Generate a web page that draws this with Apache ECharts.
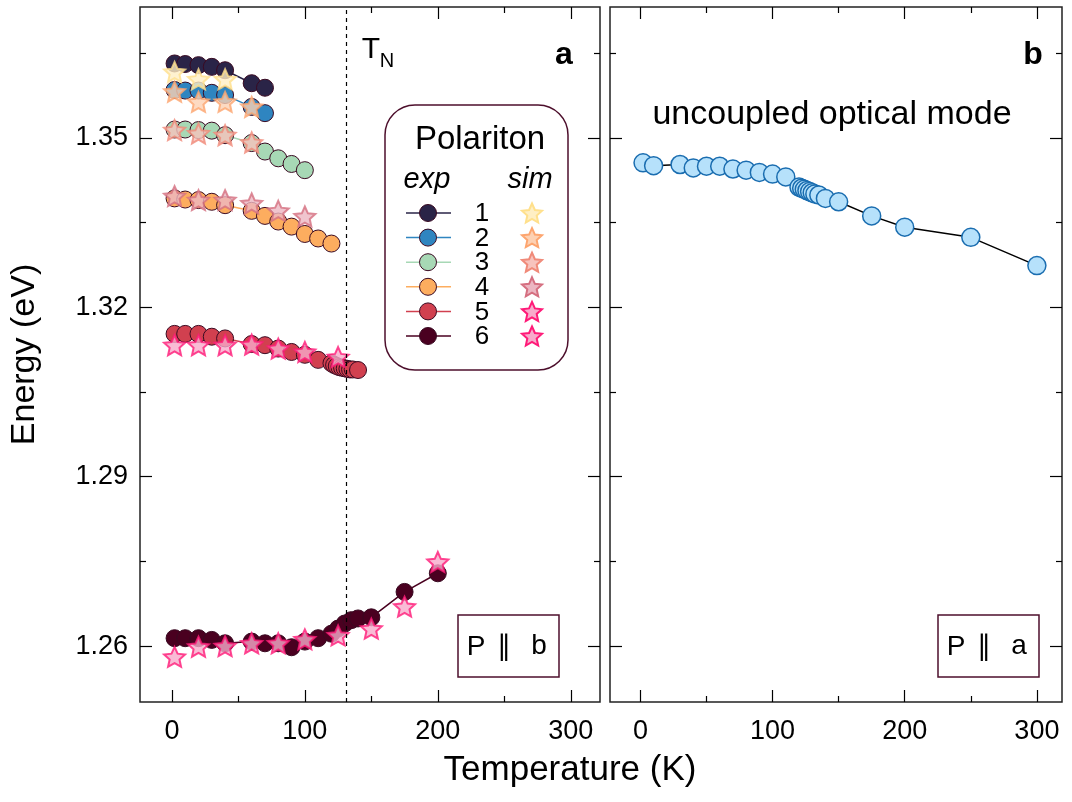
<!DOCTYPE html>
<html>
<head>
<meta charset="utf-8">
<script src="https://cdn.jsdelivr.net/npm/echarts@6/dist/echarts.min.js"></script>
<style>
  html, body { margin: 0; padding: 0; background: #fff; }
  #chart { width: 1072px; height: 802px; }
</style>
</head>
<body>
<div id="chart"></div>
<script>
// ---- Panel a: polariton branches, P || b (experiment) ----
const tExp1 = [2, 10, 20, 30, 40, 60, 70];
const eExp1 = [1.3632, 1.3631, 1.3629, 1.3626, 1.3620, 1.3597, 1.3589];
const tExp2 = [2, 10, 20, 30, 40, 60, 70];
const eExp2 = [1.3585, 1.3584, 1.3584, 1.3580, 1.3576, 1.3555, 1.3544];
const tExp3 = [2, 10, 20, 30, 40, 60, 70, 80, 90, 100];
const eExp3 = [1.3515, 1.3515, 1.3514, 1.3513, 1.3505, 1.3491, 1.3476, 1.3464, 1.3454, 1.3443];
const tExp4 = [2, 10, 20, 30, 40, 60, 70, 80, 90, 100, 110, 120];
const eExp4 = [1.3393, 1.3391, 1.3390, 1.3387, 1.3381, 1.3371, 1.3362, 1.3352, 1.3343, 1.3330, 1.3322, 1.3313];
const tExp5 = [2, 10, 20, 30, 40, 60, 70, 80, 90, 100, 110, 120, 122, 124, 126, 128, 130, 132, 134, 136, 140];
const eExp5 = [1.3153, 1.3153, 1.3153, 1.3148, 1.3145, 1.3135, 1.3133, 1.3127, 1.3121, 1.3116, 1.3107, 1.3101, 1.3098, 1.3096, 1.3094, 1.3093, 1.3092, 1.3091, 1.3090, 1.3090, 1.3089];
const tExp6 = [2, 10, 20, 30, 40, 60, 70, 80, 90, 100, 110, 120, 125, 130, 135, 140, 150, 175, 200];
const eExp6 = [1.2614, 1.2614, 1.2614, 1.2611, 1.2605, 1.2608, 1.2605, 1.2605, 1.2598, 1.2608, 1.2614, 1.2622, 1.2631, 1.2640, 1.2646, 1.2649, 1.2651, 1.2696, 1.2729];

// ---- Panel a: simulated branches ----
const tSim1 = [2, 20, 40];
const eSim1 = [1.3617, 1.3604, 1.3604];
const tSim2 = [2, 20, 40, 60];
const eSim2 = [1.3582, 1.3564, 1.3564, 1.3555];
const tSim3 = [2, 20, 40, 60];
const eSim3 = [1.3514, 1.3508, 1.3505, 1.3492];
const tSim4 = [2, 20, 40, 60, 80, 100];
const eSim4 = [1.3397, 1.3390, 1.3390, 1.3384, 1.3371, 1.3361];
const tSim5 = [2, 20, 40, 60, 80, 100, 125];
const eSim5 = [1.3133, 1.3133, 1.3133, 1.3134, 1.3127, 1.3121, 1.3112];
const tSim6 = [2, 20, 40, 60, 80, 100, 125, 150, 175, 200];
const eSim6 = [1.2581, 1.2599, 1.2600, 1.2605, 1.2605, 1.2612, 1.2619, 1.2631, 1.2670, 1.2749];

// Néel temperature
const tNeel = 131;

// ---- Panel b: uncoupled optical mode, P || a ----
const tMode = [2, 10, 30, 40, 50, 60, 70, 80, 90, 100, 110, 120, 122, 124, 126, 128, 130, 132, 135, 140, 150, 175, 200, 250, 300];
const eMode = [1.3456, 1.3451, 1.3453, 1.3447, 1.3450, 1.3450, 1.3445, 1.3443, 1.3439, 1.3436, 1.3431, 1.3413, 1.3411, 1.3409, 1.3407, 1.3405, 1.3403, 1.3401, 1.3399, 1.3393, 1.3387, 1.3362, 1.3342, 1.3324, 1.3274];

// ---- Axis ticks ----
const xMajor = [0, 100, 200, 300];
const xMinor = [50, 150, 250];
const yMajor = [1.26, 1.29, 1.32, 1.35];
const yMinor = [1.275, 1.305, 1.335, 1.365];
const legendLabels = ['1', '2', '3', '4', '5', '6'];

// ---- Styling ----
const FONT = 'Liberation Sans';
const expColors = ['#2a2447', '#2f85c0', '#a7d8b5', '#fdad5f', '#d1404f', '#4a0020'];
const simBorder = ['#ffe08c', '#fda56f', '#f08a79', '#d56f80', '#ff1a78', '#ff1a78'];
const simFill = ['#ffefc4', '#fdd1b3', '#f7c3bd', '#ecb6c2', '#f8aacb', '#f8aacb'];
const markerEdge = '#3a0a22';
const boxEdge = '#4d0f2c';

function starPath() {
  let d = '';
  for (let i = 0; i < 10; i++) {
    const r = i % 2 ? 0.47 : 1;
    const a = -Math.PI / 2 + i * Math.PI / 5;
    d += (i ? 'L' : 'M') + (r * Math.cos(a)).toFixed(4) + ' ' + (r * Math.sin(a)).toFixed(4);
  }
  return 'path://' + d + 'Z';
}
const STAR = starPath();

function starPoints(cx, cy, R) {
  const pts = [];
  for (let i = 0; i < 10; i++) {
    const r = i % 2 ? R * 0.47 : R;
    const a = -Math.PI / 2 + i * Math.PI / 5;
    pts.push([cx + r * Math.cos(a), cy + r * Math.sin(a)]);
  }
  return pts;
}

const zip = (xs, ys) => xs.map((x, i) => [x, ys[i]]);

const expT = [tExp1, tExp2, tExp3, tExp4, tExp5, tExp6];
const expE = [eExp1, eExp2, eExp3, eExp4, eExp5, eExp6];
const simT = [tSim1, tSim2, tSim3, tSim4, tSim5, tSim6];
const simE = [eSim1, eSim2, eSim3, eSim4, eSim5, eSim6];

// panel rectangles; grids 0/1 carry data + major ticks, grids 2/3 repeat them for minor ticks
const PANELS = [
  { left: 140, top: 7, width: 460, height: 695, xmin: -24, xmax: 322 },
  { left: 610, top: 7, width: 452, height: 695, xmin: -23, xmax: 319 }
];
const Y_RANGE = { min: 1.2501, max: 1.3732 };

const grids = [];
const xAxes = [];
const yAxes = [];
[true, false].forEach(major => {
  PANELS.forEach((p, pi) => {
    const g = grids.length;
    grids.push({
      left: p.left, top: p.top, width: p.width, height: p.height,
      show: major, borderColor: '#222', borderWidth: 1.5, backgroundColor: 'transparent'
    });
    ['bottom', 'top'].forEach(pos => {
      xAxes.push({
        type: 'value', gridIndex: g, position: pos,
        min: p.xmin, max: p.xmax,
        axisLine: { show: false, onZero: false },
        splitLine: { show: false },
        axisTick: {
          show: true, inside: true, length: major ? 12 : 6,
          customValues: major ? xMajor : xMinor,
          lineStyle: { color: '#000', width: 1.2 }
        },
        axisLabel: {
          show: major && pos === 'bottom',
          customValues: xMajor, margin: 16,
          fontFamily: FONT, fontSize: 27, color: '#000'
        }
      });
    });
    ['left', 'right'].forEach(pos => {
      const labelled = major && pos === 'left' && pi === 0;
      yAxes.push({
        type: 'value', gridIndex: g, position: pos,
        min: Y_RANGE.min, max: Y_RANGE.max,
        axisLine: { show: false, onZero: false },
        splitLine: { show: false },
        axisTick: {
          show: true, inside: true, length: major ? 12 : 6,
          customValues: major ? yMajor : yMinor,
          lineStyle: { color: '#000', width: 1.2 }
        },
        axisLabel: {
          show: labelled,
          customValues: yMajor, margin: 12,
          fontFamily: FONT, fontSize: 27, color: '#000',
          formatter: v => v.toFixed(2)
        },
        name: labelled ? 'Energy (eV)' : '',
        nameLocation: 'middle', nameGap: 98,
        nameTextStyle: { fontFamily: FONT, fontSize: 34, color: '#000' }
      });
    });
  });
});

const series = [];
expT.forEach((ts, i) => {
  const s = {
    type: 'line', xAxisIndex: 0, yAxisIndex: 0,
    data: zip(ts, expE[i]),
    symbol: 'circle', symbolSize: 17,
    lineStyle: { color: expColors[i], width: 1.5 },
    itemStyle: { color: expColors[i], borderColor: markerEdge, borderWidth: 1 },
    z: 2, animation: false, silent: true
  };
  if (i === 0) {
    s.markLine = {
      silent: true, symbol: ['none', 'none'],
      label: { show: false },
      lineStyle: { color: '#000', type: [4, 4], width: 1.2 },
      data: [{ xAxis: tNeel }]
    };
  }
  series.push(s);
});
simT.forEach((ts, i) => {
  series.push({
    type: 'scatter', xAxisIndex: 0, yAxisIndex: 0,
    data: zip(ts, simE[i]),
    symbol: STAR, symbolSize: 21, symbolKeepAspect: true,
    itemStyle: { color: simFill[i], borderColor: simBorder[i], borderWidth: 2 },
    z: 3, animation: false, silent: true
  });
});
series.push({
  type: 'line', xAxisIndex: 2, yAxisIndex: 2,
  data: zip(tMode, eMode),
  symbol: 'circle', symbolSize: 18,
  lineStyle: { color: '#000', width: 1.5 },
  itemStyle: { color: '#b6e1fb', borderColor: '#1a6db0', borderWidth: 1.5 },
  animation: false, silent: true
});

// legend box drawn as graphics
const graphics = [];
const font = (size, extra) => (extra ? extra + ' ' : '') + size + 'px "' + FONT + '"';
const txt = (x, y, text, f) => ({
  type: 'text', x: x, y: y, z: 11,
  style: { text: text, font: f, fill: '#000', align: 'center', verticalAlign: 'middle' }
});

graphics.push({
  type: 'rect', shape: { x: 385, y: 105, width: 183, height: 265, r: 30 },
  style: { fill: '#fff', stroke: boxEdge, lineWidth: 1.5 }, z: 10
});
graphics.push(txt(480, 140, 'Polariton', font(33)));
graphics.push(txt(427, 180, 'exp', font(29, 'italic')));
graphics.push(txt(530, 180, 'sim', font(29, 'italic')));
legendLabels.forEach((lab, i) => {
  const y = 213 + i * 24.6;
  graphics.push({ type: 'line', z: 11, shape: { x1: 406, y1: y, x2: 451, y2: y }, style: { stroke: expColors[i], lineWidth: 1.5 } });
  graphics.push({ type: 'circle', z: 12, shape: { cx: 428, cy: y, r: 8.5 }, style: { fill: expColors[i], stroke: markerEdge, lineWidth: 1 } });
  graphics.push(txt(482, y + 1, lab, font(26)));
  graphics.push({ type: 'polygon', z: 12, shape: { points: starPoints(532, y + 1, 10.5) }, style: { fill: simFill[i], stroke: simBorder[i], lineWidth: 2 } });
});

// panel letters and annotations
graphics.push(txt(564, 55, 'a', font(32, 'bold')));
graphics.push(txt(1033, 55, 'b', font(32, 'bold')));
graphics.push(txt(371, 50, 'T', font(30)));
graphics.push(txt(387, 61, 'N', font(20)));
graphics.push(txt(832, 115, 'uncoupled optical mode', font(34)));

[[458, 'b'], [938, 'a']].forEach(([x, axisLetter]) => {
  graphics.push({ type: 'rect', z: 10, shape: { x: x, y: 615, width: 101, height: 62 }, style: { fill: '#fff', stroke: boxEdge, lineWidth: 1.5 } });
  graphics.push(txt(x + 18, 647, 'P', font(28)));
  graphics.push(txt(x + 46, 647, '\u2225', font(28)));
  graphics.push(txt(x + 81, 646, axisLetter, font(28)));
});

graphics.push(txt(570, 770, 'Temperature (K)', font(35)));

const chart = echarts.init(document.getElementById('chart'), null, { renderer: 'canvas' });
chart.setOption({
  animation: false,
  backgroundColor: '#fff',
  grid: grids,
  xAxis: xAxes,
  yAxis: yAxes,
  series: series,
  graphic: graphics
});
</script>
</body>
</html>
